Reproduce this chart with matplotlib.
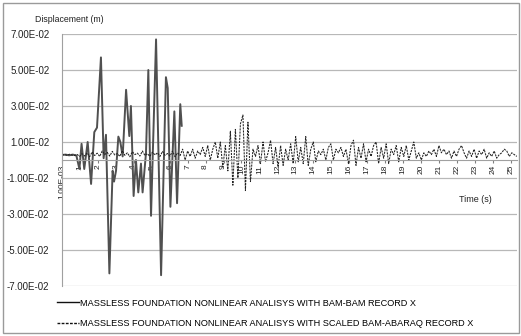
import numpy as np
import matplotlib
matplotlib.use("Agg")
import matplotlib.pyplot as plt
from matplotlib.patches import Rectangle

plt.rcParams['font.family'] = ['Liberation Sans', 'DejaVu Sans']

# ---- data ----
# Series 1: massless foundation, BAM-BAM record X (time s, displacement m)
bam_t = [0.0, 0.2, 0.4, 0.6, 0.8, 0.97, 1.09, 1.24, 1.43, 1.62, 1.80, 1.95, 2.17,
         2.32, 2.45, 2.64, 2.82, 2.90, 3.01, 3.14, 3.25, 3.38, 3.57, 3.75, 3.84,
         3.99, 4.12, 4.25, 4.40, 4.49, 4.68, 4.81, 4.96, 5.24, 5.52, 5.79, 5.89,
         6.04, 6.26, 6.41, 6.59, 6.67]
bam_v = [0.0028, 0.0030, 0.0026, 0.0030, 0.0025, -0.005, 0.009, -0.005, 0.010,
         -0.0133, 0.0155, 0.018, 0.057, 0.001, 0.014, -0.063, -0.006, -0.012,
         -0.006, 0.013, 0.010, 0.002, 0.039, 0.0133, 0.030, -0.020, 0.0, -0.018,
         -0.002, -0.018, 0.004, 0.050, -0.031, 0.067, -0.064, 0.046, 0.040,
         -0.026, 0.027, -0.024, 0.031, 0.019]

# Series 2: massless foundation, scaled BAM-ABARAQ record X (sampled every 0.14 s)
abq_dt = 0.14
abq_v = [0.0028, 0.0030, 0.0026, 0.0032, 0.0027, 0.0025, 0.0031, 0.0020, 0.0035, 0.0022,
         0.0040, 0.0018, 0.0045, 0.0025, 0.0038, 0.0020, 0.0050, 0.0030, 0.0042, 0.0022,
         0.0048, 0.0028, 0.0036, 0.0020, 0.0052, 0.0026, 0.0040, 0.0018, 0.0046, 0.0030,
         0.0038, 0.0022, 0.0050, 0.0025, 0.0035, 0.0020, 0.0044, 0.0028, 0.0040, 0.0020,
         0.0048, 0.0026, 0.0036, 0.0022, 0.0050, 0.0018, 0.0040, 0.0025,
         0.006, 0.000, 0.005, 0.002, 0.006, 0.001, 0.005, 0.003, 0.007, 0.002, 0.008, 0.000, 0.006,
         0.010, 0.001, 0.010, -0.004, 0.008, -0.006, 0.016, -0.014, 0.017, -0.010,
         0.020, 0.025, -0.017, 0.021, -0.012, 0.006, 0.002, 0.008, -0.002, 0.010,
         -0.001, 0.004, 0.011, -0.002, 0.007, -0.004, 0.008, -0.003, 0.006, 0.000,
         0.009, -0.002, 0.013, -0.001, 0.007, -0.002, 0.013, -0.003, 0.006, 0.010,
         -0.001, 0.005, 0.003, 0.006, 0.000, 0.007, 0.009, 0.000, 0.006, 0.004,
         0.007, 0.002, 0.006, -0.002, 0.008, 0.011, -0.003, 0.007, 0.001, 0.009,
         -0.001, 0.006, 0.002, 0.008, 0.010, -0.002, 0.007, 0.001, 0.009, -0.002,
         0.006, 0.003, 0.008, -0.001, 0.007, 0.002, 0.008, 0.000, 0.005, 0.010,
         0.001, 0.004, 0.000, 0.004, 0.002, 0.005, 0.003, 0.006, 0.002, 0.008,
         0.004, 0.006, 0.003, 0.005, 0.001, 0.005, 0.002, 0.006, 0.008, 0.004,
         0.001, 0.005, 0.002, 0.006, 0.001, 0.005, 0.003, 0.006, 0.001, 0.004,
         0.002, 0.005, 0.001, 0.003, 0.004, 0.006, 0.005, 0.002, 0.004, 0.003, 0.002]
abq_t = np.arange(len(abq_v)) * abq_dt

y_ticks = [-0.07, -0.05, -0.03, -0.01, 0.01, 0.03, 0.05, 0.07]
y_labels = ["-7.00E-02", "-5.00E-02", "-3.00E-02", "-1.00E-02",
            "1.00E-02", "3.00E-02", "5.00E-02", "7.00E-02"]
x_ticks = list(range(0, 26))
x_labels = ["1.00E-03"] + [str(i) for i in range(1, 26)]

label1 = "MASSLESS FOUNDATION NONLINEAR ANALISYS WITH BAM-BAM RECORD X"
label2 = "MASSLESS FOUNDATION NONLINEAR ANALISYS WITH SCALED BAM-ABARAQ RECORD X"

# ---- figure ----
W, H = 521, 336
fig = plt.figure(figsize=(W / 100, H / 100), dpi=100)
fig.patches.append(Rectangle((3 / W, 3 / H), 516 / W, 330 / H, transform=fig.transFigure,
                             fill=False, edgecolor='#9a9a9a', linewidth=1.0))

ax = fig.add_axes([62 / W, 1 - 286 / H, (517 - 62) / W, (286 - 34) / H])
for s in ['top', 'right']:
    ax.spines[s].set_visible(False)
ax.spines['bottom'].set_position(('data', 0))
ax.spines['left'].set_color('#a0a0a0')
ax.spines['bottom'].set_color('#a0a0a0')

l1, = ax.plot(bam_t, bam_v, color='#505050', linewidth=1.4, label=label1)
l2, = ax.plot(abq_t, abq_v, color='#222222', linewidth=0.75, linestyle=(0, (2, 1)),
              label=label2)

ax.set_xlim(0, 25.35)
ax.set_ylim(-0.07, 0.07)
ax.set_yticks(y_ticks)
ax.set_yticklabels(y_labels)
ax.set_xticks(x_ticks)
ax.set_xticklabels(x_labels)
ax.grid(axis='y', color='#b8b8b8', linewidth=0.9)
ax.set_axisbelow(True)

ax.tick_params(axis='y', length=0, pad=9, labelsize=7, colors='#222222')
ax.tick_params(axis='x', length=2, pad=1.5, labelsize=6, colors='#222222',
               color='#808080', labelrotation=90)
for lab in ax.get_xticklabels():
    lab.set_rotation(90)
    lab.set_va('top')
    lab.set_ha('center')

fig.text(35 / W, 1 - 20 / H, "Displacement (m)", fontsize=6.3, va='center', ha='left',
         color='#222222')
fig.text(459 / W, 1 - 199 / H, "Time (s)", fontsize=6.5, va='center', ha='left',
         color='#222222')

leg = fig.legend(handles=[l1, l2], loc='upper left', bbox_to_anchor=(53 / W, 1 - 295 / H),
                 frameon=False, fontsize=6.6, handlelength=2.4, handletextpad=0.2,
                 labelspacing=1.25, borderaxespad=0)
for line in leg.get_lines():
    line.set_color('#111111')
    line.set_linewidth(1.0)

fig.savefig("out.png", dpi=100)
